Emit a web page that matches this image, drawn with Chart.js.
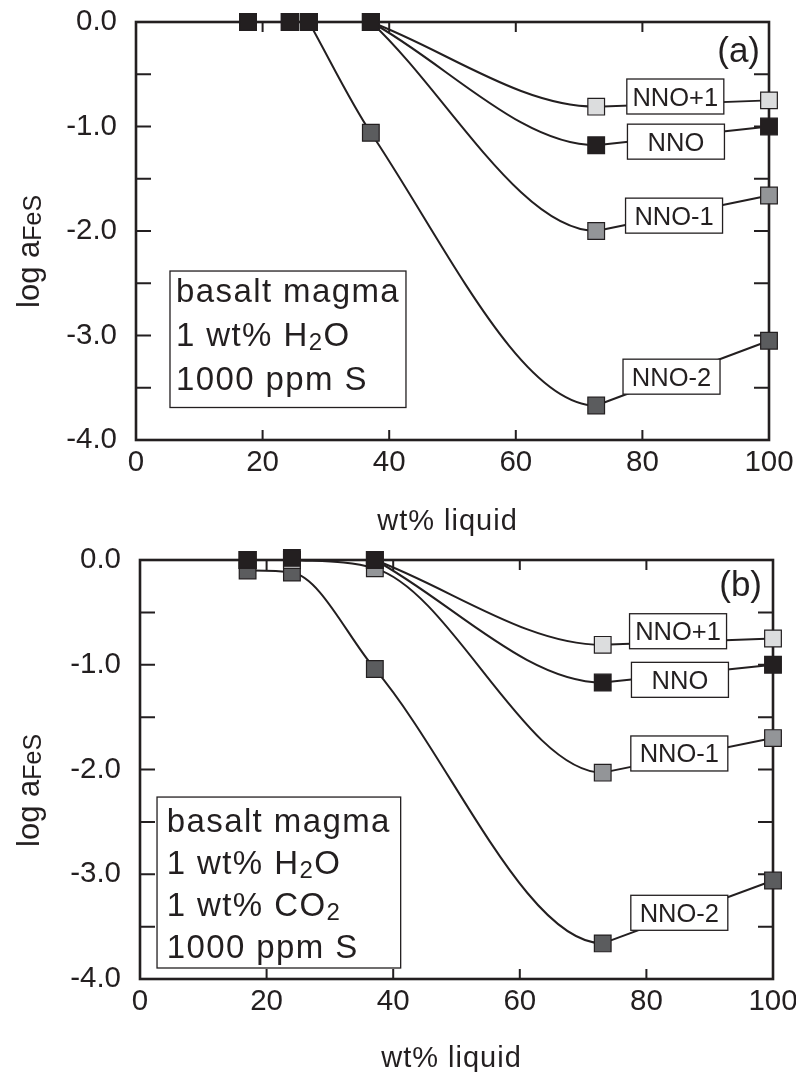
<!DOCTYPE html>
<html><head><meta charset="utf-8">
<script src="https://cdn.jsdelivr.net/npm/chart.js@4/dist/chart.umd.min.js"></script>
<style>
html,body{margin:0;padding:0;background:#fff;overflow:hidden;width:796px;height:1072px;position:relative;}
canvas{position:absolute;left:0;}
#ca{top:0px} #cb{top:536px}
</style></head><body>
<canvas id="ca" width="820" height="536"></canvas>
<canvas id="cb" width="820" height="536"></canvas>
<script>
// ---------- data ----------
const seriesNames = ['NNO+1', 'NNO', 'NNO-1', 'NNO-2'];

// panel (a): basalt magma, 1 wt% H2O, 1000 ppm S
const xA      = [17.7, 24.3, 27.3, 37.1, 72.7, 100];
const aNNOp1  = [0, 0, 0, 0,     -0.81, -0.75];
const aNNO    = [0, 0, 0, 0,     -1.18, -1.00];
const aNNOm1  = [0, 0, 0, 0,     -2.00, -1.66];
const aNNOm2  = [0, 0, 0, -1.06, -3.67, -3.05];
const aCurveStart = {'NNO+1': 3, 'NNO': 3, 'NNO-1': 3, 'NNO-2': 2};

// panel (b): basalt magma, 1 wt% H2O, 1 wt% CO2, 1000 ppm S
const xB      = [17.0, 24.0, 37.1, 73.1, 100];
const bNNOp1  = [0, 0, 0,          -0.81, -0.75];
const bNNO    = [0, 0.02, 0,       -1.17, -1.00];
const bNNOm1  = [0, 0, -0.08,      -2.03, -1.70];
const bNNOm2  = [-0.10, -0.12, -1.04, -3.66, -3.06];
const bCurveStart = {'NNO+1': 2, 'NNO': 2, 'NNO-1': 1, 'NNO-2': 0};

// axes
const xTickValues = [0, 20, 40, 60, 80, 100];
const yTickValues = [0, -1, -2, -3, -4];
const xInnerTicks = [20, 40, 60, 80];
const yInnerTicks = [-0.5, -1, -1.5, -2, -2.5, -3, -3.5];
const xTitle = 'wt% liquid';
const yTitleMain = 'log a';
const yTitleSub = 'FeS';

// texts
const infoA = [[{t:'basalt magma'}], [{t:'1 wt% H'},{t:'2',sub:true},{t:'O'}], [{t:'1000 ppm S'}]];
const infoB = [[{t:'basalt magma'}], [{t:'1 wt% H'},{t:'2',sub:true},{t:'O'}], [{t:'1 wt% CO'},{t:'2',sub:true}], [{t:'1000 ppm S'}]];

// ---------- styles / placement ----------
const INK = '#231f20';
const FILL = {'NNO+1':'#dcddde', 'NNO':'#231f20', 'NNO-1':'#939598', 'NNO-2':'#5b5c5e'};
const FONT = '"Liberation Sans", Arial, Helvetica, sans-serif';
const TICK_SIZE = 29.5;

const panelA = {
  canvas: 'ca', xs: xA,
  ys: {'NNO+1': aNNOp1, 'NNO': aNNO, 'NNO-1': aNNOm1, 'NNO-2': aNNOm2},
  curveStart: aCurveStart,
  pad: {top: 22, right: 51, bottom: 0, left: 0}, yWidth: 136, xHeight: 96,
  labelPos: {'NNO+1':[85.2,-0.713], 'NNO':[85.3,-1.145], 'NNO-1':[85.0,-1.853], 'NNO-2':[84.6,-3.394]},
  infoBox: [5.37, -2.383, 42.65, -3.689], info: infoA, infoPadX: 6, infoFirst: 30.7, infoStep: 44,
  letter: '(a)', letterDx: -9, letterDy: 40,
  yTitleX: 39, yTitleY: 308, xTitleDy: 90
};
const panelB = {
  canvas: 'cb', xs: xB,
  ys: {'NNO+1': bNNOp1, 'NNO': bNNO, 'NNO-1': bNNOm1, 'NNO-2': bNNOm2},
  curveStart: bCurveStart,
  pad: {top: 24, right: 47, bottom: 0, left: 0}, yWidth: 140, xHeight: 93,
  labelPos: {'NNO+1':[85.0,-0.680], 'NNO':[85.3,-1.144], 'NNO-1':[85.2,-1.847], 'NNO-2':[85.2,-3.368]},
  infoBox: [2.69, -2.263, 41.18, -3.895], info: infoB, infoPadX: 9.7, infoFirst: 34.7, infoStep: 42.1,
  letter: '(b)', letterDx: -11, letterDy: 36,
  yTitleX: 39, yTitleY: 311, xTitleDy: 88
};

function drawRich(ctx, x, y, parts, font, subFont, subOff, spacing) {
  let cx = x;
  parts.forEach(p => {
    ctx.font = p.sub ? subFont : font;
    try { ctx.letterSpacing = spacing + 'px'; } catch (e) {}
    ctx.fillText(p.t, cx, y + (p.sub ? subOff : 0));
    cx += ctx.measureText(p.t).width;
  });
  try { ctx.letterSpacing = '0px'; } catch (e) {}
}

function makePlugin(P) {
  return {
    id: 'decor',
    beforeDatasetsDraw(chart) {
      const {ctx, chartArea: a, scales: {x, y}} = chart;
      ctx.save();
      ctx.strokeStyle = INK;
      ctx.lineWidth = 2.6;
      ctx.strokeRect(a.left, a.top, a.right - a.left, a.bottom - a.top);
      ctx.lineWidth = 2;
      ctx.beginPath();
      xInnerTicks.forEach(v => {
        const px = x.getPixelForValue(v);
        ctx.moveTo(px, a.bottom); ctx.lineTo(px, a.bottom - 10);
        ctx.moveTo(px, a.top); ctx.lineTo(px, a.top + 10);
      });
      yInnerTicks.forEach(v => {
        const py = y.getPixelForValue(v);
        ctx.moveTo(a.left, py); ctx.lineTo(a.left + 15, py);
        ctx.moveTo(a.right, py); ctx.lineTo(a.right - 15, py);
      });
      ctx.stroke();
      ctx.restore();
    },
    afterDatasetsDraw(chart) {
      const {ctx, chartArea: a, scales: {x, y}} = chart;
      ctx.save();
      ctx.fillStyle = INK;
      ctx.strokeStyle = INK;
      // series label boxes
      const bw = 97, bh = 35;
      seriesNames.forEach(n => {
        const [lx, ly] = P.labelPos[n];
        const cx = x.getPixelForValue(lx), cy = y.getPixelForValue(ly);
        ctx.fillStyle = '#fff';
        ctx.fillRect(cx - bw / 2, cy - bh / 2, bw, bh);
        ctx.lineWidth = 1.3;
        ctx.strokeRect(cx - bw / 2, cy - bh / 2, bw, bh);
        ctx.fillStyle = INK;
        ctx.font = '25.5px ' + FONT;
        ctx.textAlign = 'center';
        ctx.textBaseline = 'alphabetic';
        ctx.fillText(n, cx, cy + 9);
      });
      // info box
      const [x1, y1, x2, y2] = P.infoBox;
      const l = x.getPixelForValue(x1), r = x.getPixelForValue(x2);
      const t = y.getPixelForValue(y1), b = y.getPixelForValue(y2);
      ctx.fillStyle = '#fff';
      ctx.fillRect(l, t, r - l, b - t);
      ctx.lineWidth = 1.3;
      ctx.strokeRect(l, t, r - l, b - t);
      ctx.fillStyle = INK;
      ctx.textAlign = 'left';
      ctx.textBaseline = 'alphabetic';
      P.info.forEach((line, i) => {
        drawRich(ctx, l + P.infoPadX, t + P.infoFirst + i * P.infoStep, line,
          '33px ' + FONT, '24px ' + FONT, 4, 1.4);
      });
      // panel letter
      ctx.font = '35px ' + FONT;
      ctx.textAlign = 'right';
      ctx.fillText(P.letter, a.right + P.letterDx, a.top + P.letterDy);
      // x title
      ctx.textAlign = 'left';
      ctx.font = '29px ' + FONT;
      try { ctx.letterSpacing = '1px'; } catch (e) {}
      const tw = ctx.measureText(xTitle).width;
      ctx.fillText(xTitle, (a.left + a.right) / 2 - 5 - tw / 2, a.bottom + P.xTitleDy);
      try { ctx.letterSpacing = '0px'; } catch (e) {}
      // y title
      ctx.save();
      ctx.translate(P.yTitleX, P.yTitleY);
      ctx.rotate(-Math.PI / 2);
      drawRich(ctx, 0, 0, [{t: yTitleMain}, {t: yTitleSub, sub: true}],
        '31px ' + FONT, '25px ' + FONT, 1.5, 0);
      ctx.restore();
      ctx.restore();
    }
  };
}

function buildDatasets(P) {
  const ds = [];
  // markers on top: first datasets drawn last
  ['NNO', 'NNO+1', 'NNO-1', 'NNO-2'].forEach(n => {
    ds.push({
      label: n, data: P.xs.map((xv, i) => ({x: xv, y: P.ys[n][i]})),
      showLine: false, pointStyle: 'rect', pointRadius: 11.8,
      pointBackgroundColor: FILL[n], pointBorderColor: INK, pointBorderWidth: 1.2,
      order: 0, clip: false
    });
  });
  seriesNames.forEach(n => {
    const pts = P.xs.map((xv, i) => ({x: xv, y: P.ys[n][i]}));
    const curve = pts.slice(P.curveStart[n]);
    const last = curve.length - 1;
    ds.push({
      label: n + ' curve', data: curve, showLine: true, cubicInterpolationMode: 'monotone',
      pointRadius: 0, borderColor: INK, borderWidth: 2, order: 1, clip: false, fill: false,
      segment: { borderColor: c => (c.p1DataIndex === last ? 'rgba(0,0,0,0)' : undefined) }
    });
    ds.push({
      label: n + ' tie', data: pts.slice(-2), showLine: true, tension: 0,
      pointRadius: 0, borderColor: INK, borderWidth: 2, order: 1, clip: false, fill: false
    });
  });
  return ds;
}

function makeChart(P) {
  return new Chart(document.getElementById(P.canvas), {
    type: 'line',
    data: { datasets: buildDatasets(P) },
    options: {
      responsive: false, animation: false, devicePixelRatio: 1, events: [],
      layout: { padding: P.pad },
      plugins: { legend: {display: false}, tooltip: {enabled: false}, title: {display: false} },
      scales: {
        x: {
          type: 'linear', min: 0, max: 100,
          afterFit: s => { s.height = P.xHeight; },
          afterBuildTicks: s => { s.ticks = xTickValues.map(v => ({value: v})); },
          grid: {display: true, drawOnChartArea: false, drawTicks: true, tickLength: 5, tickColor: 'rgba(0,0,0,0)'},
          border: {display: false},
          ticks: { color: INK, font: {family: FONT, size: TICK_SIZE}, padding: 0, maxRotation: 0, autoSkip: false,
                   callback: v => String(v) }
        },
        y: {
          type: 'linear', min: -4, max: 0,
          afterFit: s => { s.width = P.yWidth; },
          afterBuildTicks: s => { s.ticks = yTickValues.map(v => ({value: v})); },
          grid: {display: true, drawOnChartArea: false, drawTicks: true, tickLength: 19, tickColor: 'rgba(0,0,0,0)'},
          border: {display: false},
          ticks: { color: INK, font: {family: FONT, size: TICK_SIZE}, padding: 0, autoSkip: false,
                   callback: v => Number(v).toFixed(1) }
        }
      }
    },
    plugins: [makePlugin(P)]
  });
}

makeChart(panelA);
makeChart(panelB);
</script>
</body></html>
